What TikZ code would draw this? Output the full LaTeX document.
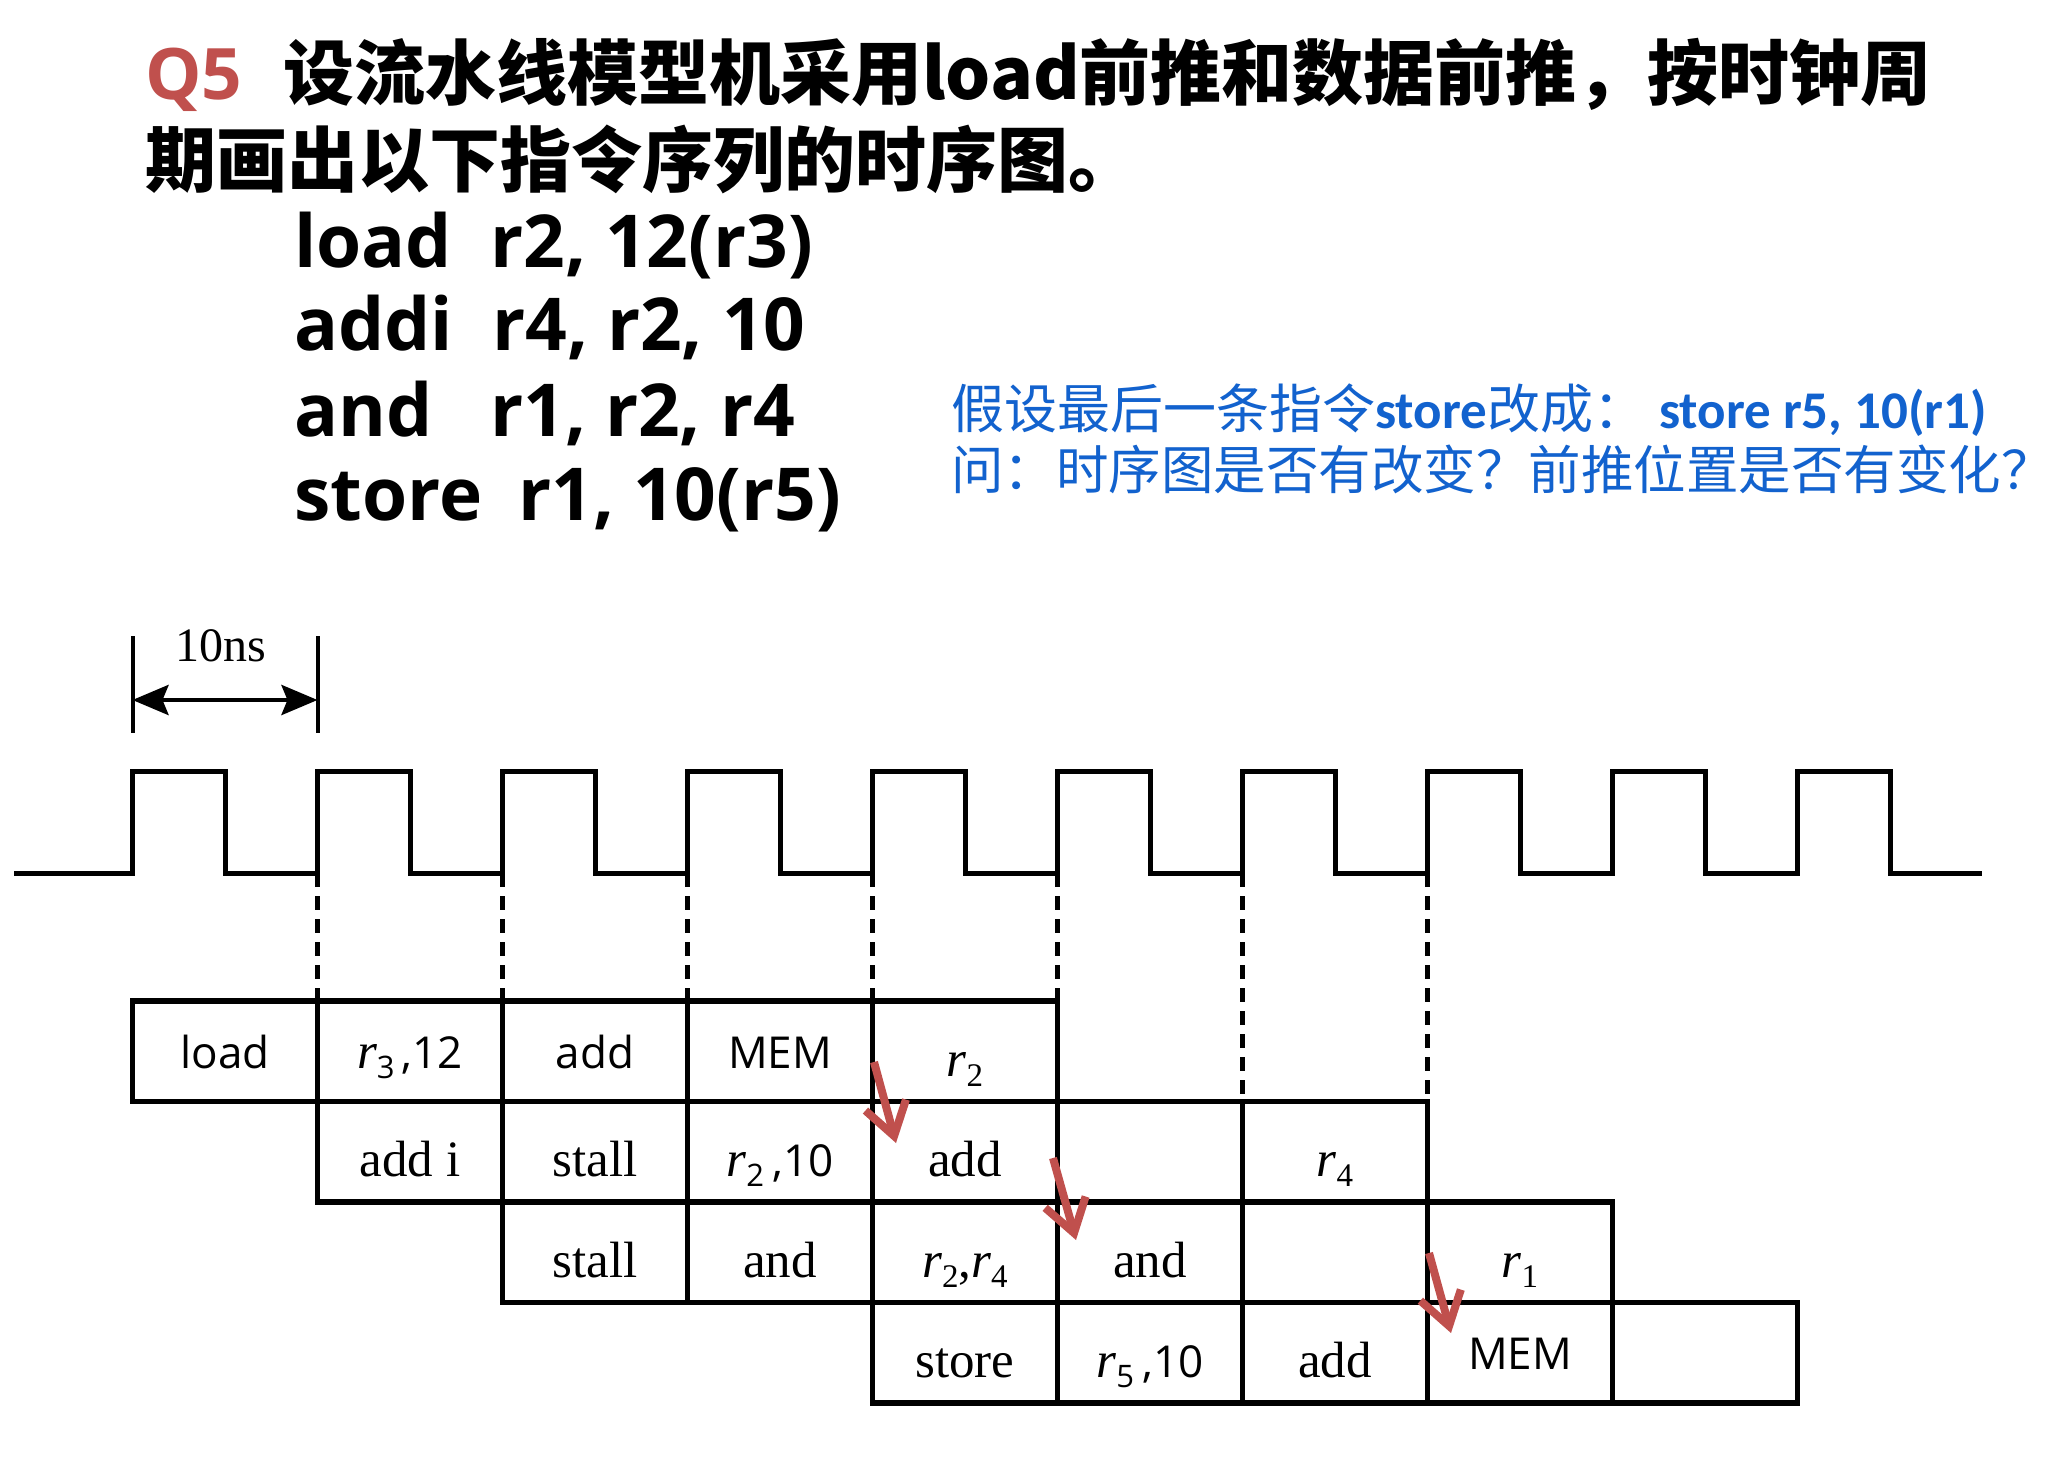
\documentclass[tikz,border=0pt]{standalone}
\usepackage{fontspec}
\setmainfont{Liberation Serif}
\newfontfamily\cjk{Noto Sans CJK SC}
\newfontfamily\osans{Open Sans}
\newfontfamily\carl{Carlito}
\usetikzlibrary{arrows.meta}
\definecolor{qred}{RGB}{192,80,77}
\definecolor{qblue}{RGB}{18,98,206}
\newcommand\fsz[1]{\fontsize{#1}{#1}\selectfont}
% italic r with serif / sans subscript
\newcommand\regser[1]{{\itshape r}\raisebox{-10pt}{\fsz{33}#1}}
\newcommand\regsan[1]{{\itshape r}\raisebox{-10pt}{\osans\fsz{31}#1}}
\tikzset{
  cellbox/.style={draw, line width=5.5pt, minimum width=185pt, minimum height=100.5pt,
                  inner sep=0pt, outer sep=0pt},
  sanscell/.style={cellbox, font=\osans\fsz{44}, text height=40pt, text depth=6pt},
  sercell/.style={cellbox, font=\rmfamily\fsz{51}, text height=56pt, text depth=6pt},
  clk/.style={line width=5pt, line join=miter},
  dashline/.style={line width=4.5pt, dash pattern=on 14pt off 9pt},
  redarr/.style={draw=qred, line width=8pt,
                 -{Straight Barb[length=32pt,width=42pt,line width=8pt]}},
  dimarr/.style={line width=4.5pt, {Stealth[length=36pt,width=30pt,inset=6pt]}-{Stealth[length=36pt,width=30pt,inset=6pt]}},
}
\begin{document}
\begin{tikzpicture}[x=1pt,y=-1pt]
\useasboundingbox (0,0) rectangle (2067,1471);
\fill[white] (0,0) rectangle (2067,1471);

% ---- title ----
\node[anchor=base west, inner sep=0pt, text=qred] (q5) at (145,100) {\osans\bfseries\fsz{71}Q5};
\node[anchor=base west, inner sep=0pt] (t1) at (283,100) {\cjk\bfseries\fsz{71}设流水线模型机采用load前推和数据前推，按时钟周};
\node[anchor=base west, inner sep=0pt] (t2) at (145,187) {\cjk\bfseries\fsz{71}期画出以下指令序列的时序图。};

% ---- code ----
\tikzset{codetxt/.style={anchor=base west, inner sep=0pt, font=\osans\bfseries\fsz{73}}}
\node[codetxt] (op1) at (294,268) {load};
\node[codetxt] (ar1) at (490,268) {r2, 12(r3)};
\node[codetxt] (op2) at (294,351) {addi};
\node[codetxt] (ar2) at (492,351) {r4, r2, 10};
\node[codetxt] (op3) at (294,436) {and};
\node[codetxt] (ar3) at (490,436) {r1, r2, r4};
\node[codetxt] (op4) at (294,520) {store};
\node[codetxt] (ar4) at (518,520) {r1, 10(r5)};

% ---- blue question ----
\node[anchor=base west, inner sep=0pt, text=qblue] (b1) at (951,428)
  {\fsz{53}{\cjk 假设最后一条指令}{\carl\bfseries store}{\cjk 改成：} {\carl\bfseries store r5, 10(r1)}};
\node[anchor=base west, inner sep=0pt, text=qblue] (b2) at (951,489)
  {\fsz{52.5}\cjk 问：时序图是否有改变？前推位置是否有变化？};

% ---- 10ns dimension ----
\coordinate (d1t) at (132.5,636); \coordinate (d1b) at (132.5,733);
\coordinate (d2t) at (317.5,636); \coordinate (d2b) at (317.5,733);
\coordinate (da1) at (132.5,700); \coordinate (da2) at (317.5,700);
\draw[line width=4pt] (d1t) -- (d1b);
\draw[line width=4pt] (d2t) -- (d2b);
\draw[dimarr] (da1) -- (da2);
\node[inner sep=0pt, font=\rmfamily\fsz{48}] (ns) at (221,646) {10ns};

% ---- clock ----
\draw[clk] (14,873) \foreach \i in {0,...,9}{
   -- ({132.5+185*\i},873) -- ({132.5+185*\i},771) -- ({225.5+185*\i},771) -- ({225.5+185*\i},873)
  } -- (1982,873);
\foreach \i in {1,...,7}{\coordinate (k\i) at ({132.5+185*\i},873);}

% ---- pipeline table ----
% row 0
\node[sanscell] (r0c0) at (225,1051.25) {load};
\node[sanscell] (r0c1) at (410,1051.25) {{\rmfamily\fsz{51}\regsan{3}}\,,12};
\node[sanscell] (r0c2) at (595,1051.25) {add};
\node[sanscell] (r0c3) at (780,1051.25) {MEM};
\node[sercell]  (r0c4) at (965,1051.25) {\regser{2}};
% row 1
\node[sercell]  (r1c1) at (410,1151.75) {add i};
\node[sercell]  (r1c2) at (595,1151.75) {stall};
\node[sercell]  (r1c3) at (780,1151.75) {\regsan{2}\,{\osans\fsz{44},10}};
\node[sercell]  (r1c4) at (965,1151.75) {add};
\node[sercell]  (r1c5) at (1150,1151.75) {};
\node[sercell]  (r1c6) at (1335,1151.75) {\regser{4}};
% row 2
\node[sercell]  (r2c2) at (595,1252.25) {stall};
\node[sercell]  (r2c3) at (780,1252.25) {and};
\node[sercell]  (r2c4) at (965,1252.25) {\regser{2},\regser{4}};
\node[sercell]  (r2c5) at (1150,1252.25) {and};
\node[sercell]  (r2c6) at (1335,1252.25) {};
\node[sercell]  (r2c7) at (1520,1252.25) {\regser{1}};
% row 3
\node[sercell]  (r3c4) at (965,1352.75) {store};
\node[sercell]  (r3c5) at (1150,1352.75) {\regsan{5}\,{\osans\fsz{44},10}};
\node[sercell]  (r3c6) at (1335,1352.75) {add};
\node[sanscell] (r3c7) at (1520,1352.75) {MEM};
\node[sercell]  (r3c8) at (1705,1352.75) {};

% ---- dashed clock guides ----
\draw[dashline] (k1) -- (r0c1.north west);
\draw[dashline] (k2) -- (r0c2.north west);
\draw[dashline] (k3) -- (r0c3.north west);
\draw[dashline] (k4) -- (r0c4.north west);
\draw[dashline] (k5) -- (r0c4.north east);
\draw[dashline] (k6) -- (r1c6.north west);
\draw[dashline] (k7) -- (r1c6.north east);

% ---- forwarding arrows ----
\coordinate (a1s) at (874,1062); \coordinate (a1e) at (896,1143);
\coordinate (a2s) at (1053,1158); \coordinate (a2e) at (1076,1240);
\coordinate (a3s) at (1429,1253); \coordinate (a3e) at (1451,1333);
\draw[redarr] (a1s) -- (a1e);
\draw[redarr] (a2s) -- (a2e);
\draw[redarr] (a3s) -- (a3e);
\end{tikzpicture}
\end{document}
